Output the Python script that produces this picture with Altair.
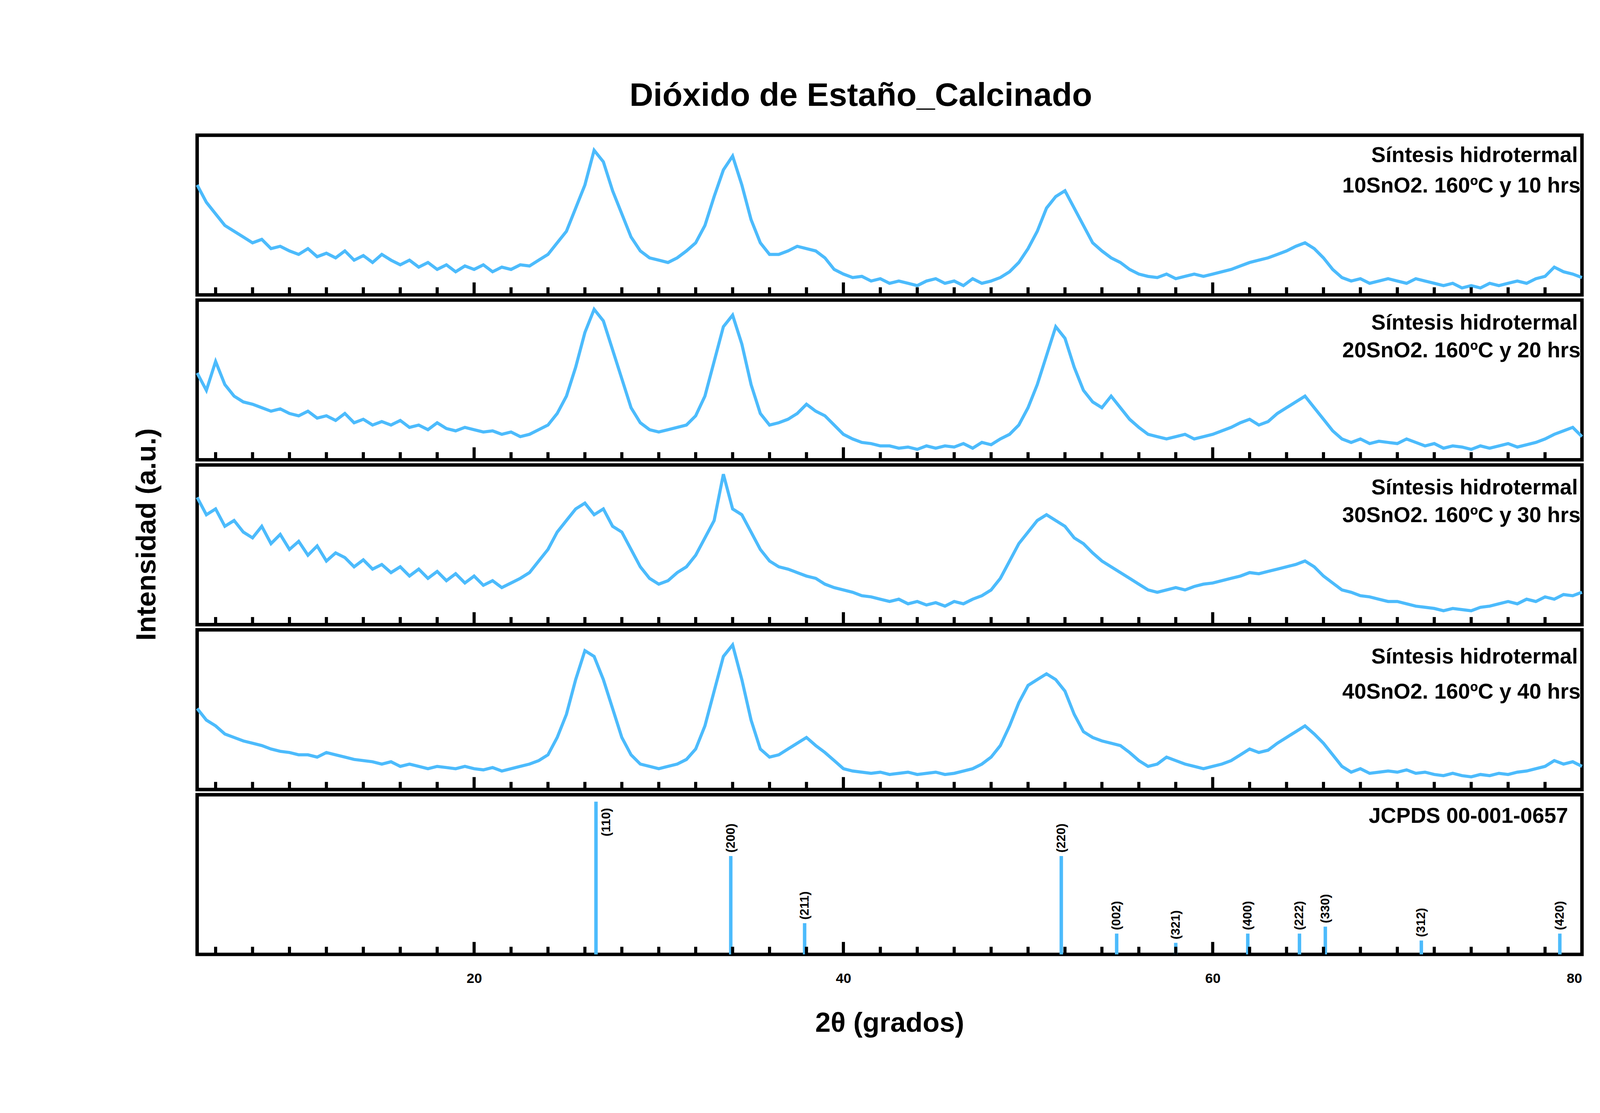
import altair as alt
import numpy as np
import pandas as pd

FONT = "Liberation Sans Narrow, Arial Narrow, Liberation Sans"
BLUE = "#4CBBFC"
W = 3997
H = 461

two_theta = np.arange(5, 80.5, 0.5)

s10 = [95, 80, 70, 60, 55, 50, 45, 48, 40, 42,
       38, 35, 40, 33, 36, 32, 38, 30, 34, 28,
       35, 30, 26, 30, 24, 28, 22, 26, 20, 25,
       22, 26, 20, 24, 22, 26, 25, 30, 35, 45,
       55, 75, 95, 125, 115, 90, 70, 50, 38, 32,
       30, 28, 32, 38, 45, 60, 85, 108, 120, 95,
       65, 45, 35, 35, 38, 42, 40, 38, 32, 22,
       18, 15, 16, 12, 14, 10, 12, 10, 8, 12,
       14, 10, 12, 8, 14, 10, 12, 15, 20, 28,
       40, 55, 75, 85, 90, 75, 60, 45, 38, 32,
       28, 22, 18, 16, 15, 18, 14, 16, 18, 16,
       18, 20, 22, 25, 28, 30, 32, 35, 38, 42,
       45, 40, 32, 22, 15, 12, 14, 10, 12, 14,
       12, 10, 14, 12, 10, 8, 10, 6, 8, 6,
       10, 8, 10, 12, 10, 14, 16, 24, 20, 18,
       15]
s20 = [75, 60, 85, 65, 55, 50, 48, 45, 42, 44,
       40, 38, 42, 36, 38, 34, 40, 32, 35, 30,
       33, 30, 34, 28, 30, 26, 32, 27, 25, 28,
       26, 24, 25, 22, 24, 20, 22, 26, 30, 40,
       55, 80, 110, 130, 120, 95, 70, 45, 32, 26,
       24, 26, 28, 30, 38, 55, 85, 115, 125, 100,
       65, 40, 30, 32, 35, 40, 48, 42, 38, 30,
       22, 18, 15, 14, 12, 12, 10, 11, 9, 12,
       10, 12, 11, 14, 10, 15, 13, 18, 22, 30,
       45, 65, 90, 115, 105, 80, 60, 50, 45, 55,
       45, 35, 28, 22, 20, 18, 20, 22, 18, 20,
       22, 25, 28, 32, 35, 30, 33, 40, 45, 50,
       55, 45, 35, 25, 18, 15, 18, 14, 16, 15,
       14, 18, 15, 12, 14, 10, 12, 11, 9, 12,
       10, 12, 14, 11, 13, 15, 18, 22, 25, 28,
       20]
s30 = [110, 95, 100, 85, 90, 80, 75, 85, 70, 78,
       65, 72, 60, 68, 55, 62, 58, 50, 56, 48,
       52, 45, 50, 42, 48, 40, 46, 38, 44, 36,
       42, 34, 38, 32, 36, 40, 45, 55, 65, 80,
       90, 100, 105, 95, 100, 85, 80, 65, 50, 40,
       35, 38, 45, 50, 60, 75, 90, 130, 100, 95,
       80, 65, 55, 50, 48, 45, 42, 40, 35, 32,
       30, 28, 25, 24, 22, 20, 22, 18, 20, 17,
       19, 16, 20, 18, 22, 25, 30, 40, 55, 70,
       80, 90, 95, 90, 85, 75, 70, 62, 55, 50,
       45, 40, 35, 30, 28, 30, 32, 30, 33, 35,
       36, 38, 40, 42, 45, 44, 46, 48, 50, 52,
       55, 50, 42, 36, 30, 28, 25, 24, 22, 20,
       20, 18, 16, 15, 14, 12, 14, 13, 12, 15,
       16, 18, 20, 18, 22, 20, 24, 22, 26, 25,
       28]
s40 = [70, 60, 55, 48, 45, 42, 40, 38, 35, 33,
       32, 30, 30, 28, 32, 30, 28, 26, 25, 24,
       22, 24, 20, 22, 20, 18, 20, 19, 18, 20,
       18, 17, 19, 16, 18, 20, 22, 25, 30, 45,
       65, 95, 120, 115, 95, 70, 45, 30, 22, 20,
       18, 20, 22, 26, 35, 55, 85, 115, 125, 95,
       60, 35, 28, 30, 35, 40, 45, 38, 32, 25,
       18, 16, 15, 14, 15, 13, 14, 15, 13, 14,
       15, 13, 14, 16, 18, 22, 28, 38, 55, 75,
       90, 95, 100, 95, 85, 65, 50, 45, 42, 40,
       38, 32, 25, 20, 22, 28, 25, 22, 20, 18,
       20, 22, 25, 30, 35, 32, 34, 40, 45, 50,
       55, 48, 40, 30, 20, 15, 18, 14, 15, 16,
       15, 17, 14, 15, 13, 12, 14, 12, 11, 13,
       12, 14, 13, 15, 16, 18, 20, 25, 22, 24,
       20]

ref_pos = [26.6, 33.9, 37.9, 51.8, 54.8, 58.0, 61.9, 64.7, 66.1, 71.3, 78.8]
ref_int = [132, 85, 27, 85, 18, 10, 18, 18, 24, 12, 18]
ref_hkl = ["(110)", "(200)", "(211)", "(220)", "(002)", "(321)", "(400)",
           "(222)", "(330)", "(312)", "(420)"]

minor_ticks = [x for x in range(6, 81, 2) if x not in (20, 40, 60, 80)]
major_ticks = [20, 40, 60]

labels = [
    ("Síntesis hidrotermal", "10SnO2. 160ºC y 10 hrs", 58, 146),
    ("Síntesis hidrotermal", "20SnO2. 160ºC y 20 hrs", 66, 146),
    ("Síntesis hidrotermal", "30SnO2. 160ºC y 30 hrs", 66, 146),
    ("Síntesis hidrotermal", "40SnO2. 160ºC y 40 hrs", 78, 180),
]

xs = alt.Scale(domain=[5, 80], nice=False, zero=False)
ys = alt.Scale(domain=[0, 138], nice=False, zero=True)


def tick_layers():
    t1 = alt.Chart(pd.DataFrame({"x": minor_ticks})).mark_rule(
        color="black", strokeWidth=9).encode(
        x=alt.X("x:Q", scale=xs), y=alt.value(H), y2=alt.value(H - 22))
    t2 = alt.Chart(pd.DataFrame({"x": major_ticks})).mark_rule(
        color="black", strokeWidth=9).encode(
        x=alt.X("x:Q", scale=xs), y=alt.value(H), y2=alt.value(H - 36))
    return [t1, t2]


def text_at(txt, y, right=12, size=62):
    return alt.Chart(pd.DataFrame({"t": [txt]})).mark_text(
        align="right", baseline="middle", font=FONT, fontWeight="bold",
        fontSize=size, color="black").encode(
        x=alt.value(W - right), y=alt.value(y), text="t:N")


def xrd_panel(vals, lab):
    df = pd.DataFrame({"x": two_theta, "y": vals})
    line = alt.Chart(df).mark_line(color=BLUE, strokeWidth=9).encode(
        x=alt.X("x:Q", scale=xs, axis=None),
        y=alt.Y("y:Q", scale=ys, axis=None),
    )
    return alt.layer(line, *tick_layers(), text_at(lab[0], lab[2]),
                     text_at(lab[1], lab[3], right=4)).properties(width=W, height=H)


panels = [xrd_panel(s, lab) for s, lab in zip([s10, s20, s30, s40], labels)]

ref = pd.DataFrame({"x": ref_pos, "h": ref_int, "hkl": ref_hkl})
bars = alt.Chart(ref).mark_rule(color=BLUE, strokeWidth=10).encode(
    x=alt.X("x:Q", scale=xs, axis=alt.Axis(
        values=[20, 40, 60, 80], ticks=False, domain=False, grid=False,
        labelFontSize=40, labelFont=FONT, labelFontWeight="bold",
        labelPadding=50, title="2θ (grados)", titleFontSize=80,
        titleFont=FONT, titlePadding=70)),
    y=alt.Y("h:Q", scale=ys, axis=None),
    y2=alt.datum(0),
)
hkl_small = alt.Chart(ref).transform_filter("datum.h < 120").mark_text(
    angle=270, align="left", baseline="middle", font=FONT, fontWeight="bold",
    fontSize=36, dx=10).encode(
    x=alt.X("x:Q", scale=xs), y=alt.Y("h:Q", scale=ys), text="hkl:N")
hkl_big = alt.Chart(ref).transform_filter("datum.h >= 120").mark_text(
    angle=270, align="left", baseline="middle", font=FONT, fontWeight="bold",
    fontSize=36, dy=30).encode(
    x=alt.X("x:Q", scale=xs), y=alt.datum(102, scale=ys), text="hkl:N")
ref_panel = alt.layer(bars, *tick_layers(), hkl_small, hkl_big,
                      text_at("JCPDS 00-001-0657", 62, right=40)).properties(
    width=W, height=H)

stack = alt.vconcat(*panels, ref_panel, spacing=0)

ylab = alt.Chart(pd.DataFrame({"t": ["Intensidad (a.u.)"]})).mark_text(
    angle=270, align="center", baseline="middle", font=FONT,
    fontWeight="bold", fontSize=80, color="black").encode(
    x=alt.value(40), y=alt.value(5 * H / 2), text="t:N",
).properties(width=156, height=5 * H, view=alt.ViewConfig(stroke="transparent"))

chart = alt.hconcat(ylab, stack, spacing=0).properties(
    title=alt.TitleParams("Dióxido de Estaño_Calcinado", fontSize=95,
                          font=FONT, fontWeight="bold", anchor="middle",
                          offset=60),
    padding={"left": 371, "top": 40, "right": 20, "bottom": 20},
).configure_view(stroke="black", strokeWidth=10).configure_axis(grid=False)

chart.save("out.html", embed_options={"renderer": "svg", "actions": False})
